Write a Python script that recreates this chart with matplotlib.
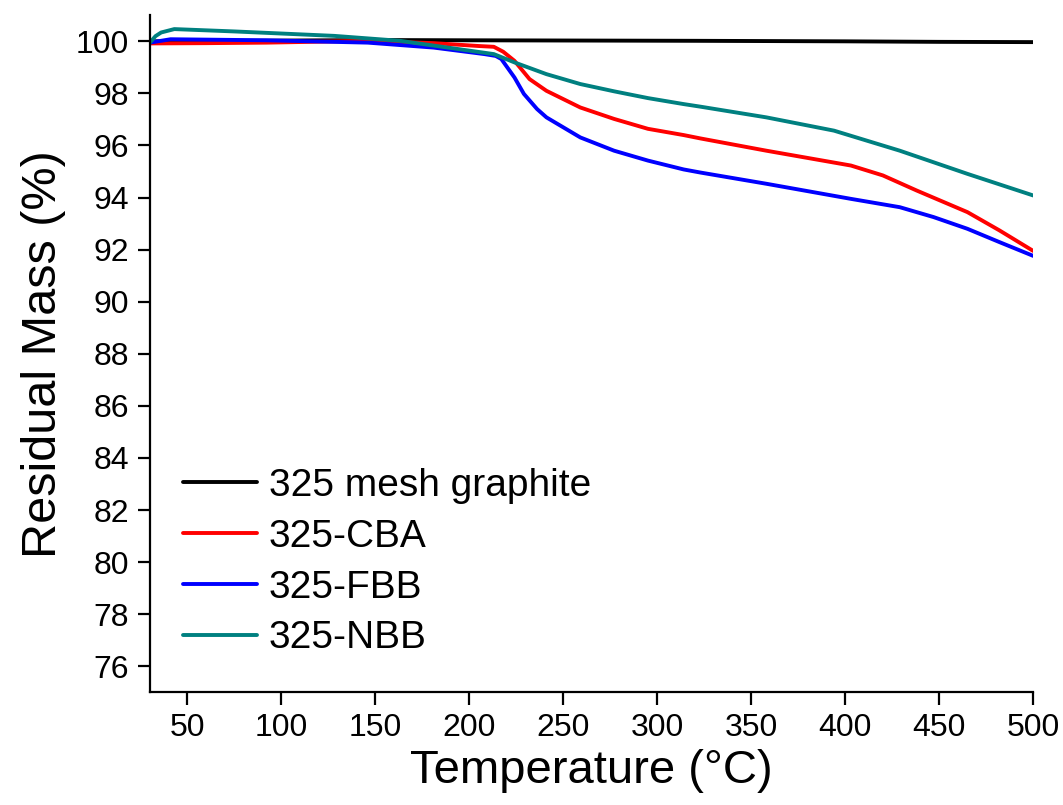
import numpy as np
import matplotlib.pyplot as plt

plt.rcParams['font.family'] = ['Liberation Sans', 'DejaVu Sans']

# 讀取的曲線數據 (溫度 °C, 殘餘質量 %)
t_graphite = [30, 80, 150, 200, 260, 320, 400, 450, 500]
m_graphite = [100.0, 100.02, 100.05, 100.04, 100.03, 100.02, 100.0, 99.98, 99.97]

t_cba = [30, 60, 92, 146, 181, 205, 213, 218, 224, 232, 241, 259, 277, 295,
         314, 323, 358, 403, 420, 438, 465, 482, 500]
m_cba = [99.92, 99.93, 99.95, 100.02, 99.93, 99.82, 99.79, 99.6, 99.25, 98.55,
         98.1, 97.46, 97.02, 96.64, 96.4, 96.27, 95.8, 95.23, 94.85, 94.27,
         93.44, 92.74, 91.95]

t_fbb = [30, 41, 92, 146, 181, 208, 214, 217, 224, 229, 236, 241, 259, 277,
         295, 314, 323, 358, 403, 429, 447, 465, 482, 500]
m_fbb = [99.95, 100.08, 100.04, 99.95, 99.76, 99.51, 99.44, 99.32, 98.61,
         97.98, 97.4, 97.08, 96.31, 95.8, 95.42, 95.08, 94.96, 94.53, 93.95,
         93.63, 93.25, 92.8, 92.29, 91.76]

t_nbb = [30, 33, 36, 43, 75, 128, 163, 213, 224, 241, 259, 277, 295, 314,
         323, 358, 394, 429, 465, 500]
m_nbb = [99.95, 100.2, 100.34, 100.47, 100.38, 100.21, 100.02, 99.51, 99.19,
         98.74, 98.36, 98.08, 97.82, 97.59, 97.49, 97.08, 96.57, 95.8, 94.91,
         94.08]

labels = ['325 mesh graphite', '325-CBA', '325-FBB', '325-NBB']
colors = ['black', '#ff0000', '#0000ff', '#008080']

fig = plt.figure(figsize=(10.63, 8.05), dpi=100)
ax = fig.add_axes([0.141, 0.140, 0.831, 0.841])

series = [(t_graphite, m_graphite), (t_cba, m_cba), (t_fbb, m_fbb), (t_nbb, m_nbb)]
for (t, m), lab, c in zip(series, labels, colors):
    ax.plot(t, m, color=c, lw=2.8, label=lab, solid_capstyle='round')

ax.set_xlim(30, 500)
ax.set_ylim(75, 101)
ax.set_xticks(np.arange(50, 501, 50))
ax.set_yticks(np.arange(76, 101, 2))

ax.spines['top'].set_visible(False)
ax.spines['right'].set_visible(False)
ax.spines['left'].set_linewidth(1.6)
ax.spines['bottom'].set_linewidth(1.6)
ax.tick_params(direction='out', length=9, width=1.6, labelsize=23, pad=6)

ax.set_xlabel('Temperature (°C)', fontsize=34, labelpad=4)
ax.set_ylabel('Residual Mass (%)', fontsize=35, labelpad=7)

ax.legend(loc='lower left', bbox_to_anchor=(0.02, 0.03), frameon=False,
          fontsize=28, handlelength=1.9, handletextpad=0.3, labelspacing=0.38,
          borderaxespad=0)

fig.savefig('out.png', dpi=100)
